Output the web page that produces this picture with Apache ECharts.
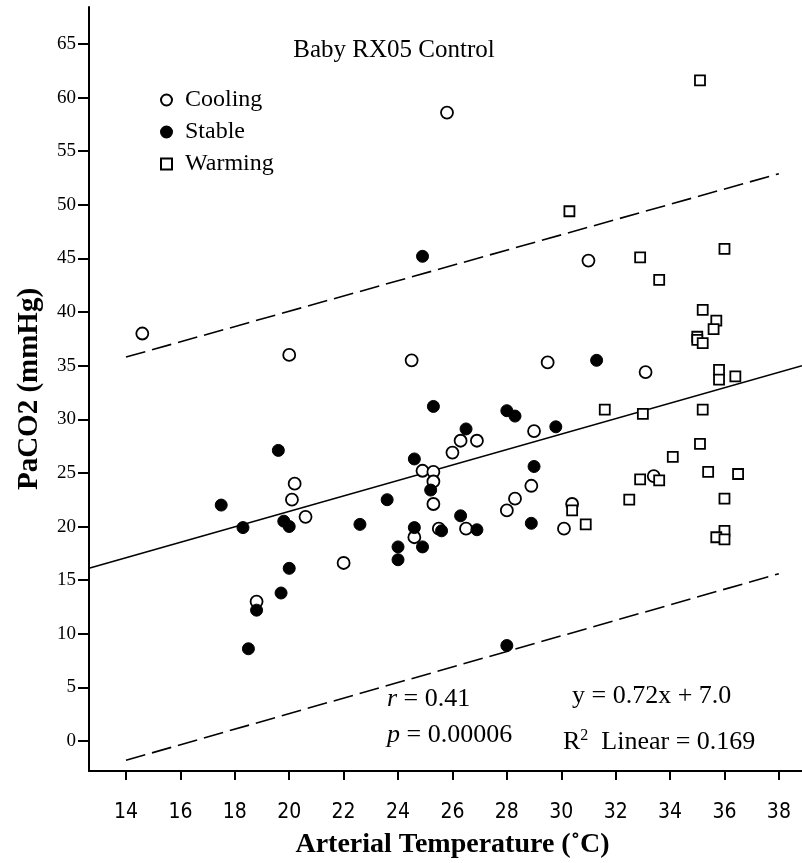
<!DOCTYPE html>
<html>
<head>
<meta charset="utf-8">
<script src="https://cdn.jsdelivr.net/npm/echarts/dist/echarts.min.js"></script>
<style>html,body{margin:0;padding:0;background:#fff;}#c{width:802px;height:863px;}</style>
</head>
<body>
<div id="c"></div>
<script>
// ---- data ----
const cooling = [
  [14.6, 38.0], [25.8, 58.6], [20.0, 36.0], [20.2, 24.0], [20.1, 22.5], [20.6, 20.9],
  [24.5, 35.5], [29.5, 35.3], [29.0, 28.9], [26.3, 28.0], [26.9, 28.0], [26.0, 26.9],
  [24.9, 25.2], [25.3, 25.1], [25.3, 24.2], [28.9, 23.8], [28.3, 22.6], [28.0, 21.5],
  [25.3, 22.1], [25.5, 19.8], [26.5, 19.8], [24.6, 19.0], [30.1, 19.8], [30.4, 22.1],
  [33.1, 34.4], [33.4, 24.7], [31.0, 44.8], [22.0, 16.6], [18.8, 13.0]
];
const stable = [
  [19.6, 27.1], [17.5, 22.0], [18.3, 19.9], [19.8, 20.5], [20.0, 20.0], [20.0, 16.1],
  [19.7, 13.8], [18.8, 12.2], [18.5, 8.6], [22.6, 20.2], [23.6, 22.5], [24.0, 18.1],
  [24.0, 16.9], [24.6, 26.3], [24.6, 19.9], [24.9, 18.1], [25.2, 23.4], [25.3, 31.2],
  [24.9, 45.2], [25.6, 19.6], [26.3, 21.0], [26.5, 29.1], [26.9, 19.7], [28.0, 30.8],
  [28.3, 30.3], [29.0, 25.6], [28.9, 20.3], [29.8, 29.3], [31.3, 35.5], [28.0, 8.9]
];
const warming = [
  [35.1, 61.6], [30.3, 49.4], [32.9, 45.1], [36.0, 45.9], [33.6, 43.0], [35.2, 40.2],
  [35.7, 39.2], [35.6, 38.4], [35.0, 37.7], [35.0, 37.4], [35.2, 37.1], [35.8, 34.6],
  [35.8, 33.7], [36.4, 34.0], [31.6, 30.9], [33.0, 30.5], [35.2, 30.9], [35.1, 27.7],
  [34.1, 26.5], [35.4, 25.1], [36.5, 24.9], [32.9, 24.4], [33.6, 24.3], [32.5, 22.5],
  [36.0, 22.6], [30.4, 21.5], [30.9, 20.2], [36.0, 19.6], [35.7, 19.0], [36.0, 18.8]
];
const fitLine = [[12.64, 16.1], [38.85, 35.0]];
const upperBand = [[14, 35.8], [38, 52.9]];
const lowerBand = [[14, -1.8], [38, 15.6]];
const xTicks = [14, 16, 18, 20, 22, 24, 26, 28, 30, 32, 34, 36, 38];
const yTicks = [0, 5, 10, 15, 20, 25, 30, 35, 40, 45, 50, 55, 60, 65];
const titleText = 'Baby RX05 Control';
const xName = 'Arterial Temperature (\u02DAC)';
const yName = 'PaCO2 (mmHg)';

const SERIF = '"Liberation Serif", "DejaVu Serif", serif';
const NARROW = '"Liberation Sans Narrow", "Arial Narrow", "DejaVu Sans Condensed", "Liberation Sans", sans-serif';
const chart = echarts.init(document.getElementById('c'), null, {renderer: 'canvas'});
const lineStyleBase = {color: '#000', width: 1.6};
chart.setOption({
  animation: false,
  backgroundColor: '#fff',
  grid: {left: 89, right: 0, top: 7, bottom: 92, containLabel: false, outerBoundsMode: 'none'},
  xAxis: {
    type: 'value', min: 12.64, max: 38.85,
    name: xName, nameLocation: 'middle', nameGap: 60,
    nameTextStyle: {fontFamily: SERIF, fontWeight: 'bold', fontSize: 28, color: '#000', padding: [0, 0, 0, 14]},
    axisLine: {show: true, onZero: false, lineStyle: {color: '#000', width: 2}},
    axisTick: {show: true, length: 9, lineStyle: {color: '#000', width: 2}, customValues: xTicks},
    axisLabel: {customValues: xTicks, margin: 31, fontSize: 21, color: '#000', fontFamily: NARROW},
    splitLine: {show: false}
  },
  yAxis: {
    type: 'value', min: -2.8, max: 68.45,
    name: yName, nameLocation: 'middle', nameGap: 45, nameRotate: 90,
    nameTextStyle: {fontFamily: SERIF, fontWeight: 'bold', fontSize: 29, color: '#000'},
    axisLine: {show: true, onZero: false, lineStyle: {color: '#000', width: 2}},
    axisTick: {show: true, length: 11, lineStyle: {color: '#000', width: 2}, customValues: yTicks},
    axisLabel: {customValues: yTicks, margin: 13, fontSize: 19, color: '#000', fontFamily: SERIF},
    splitLine: {show: false}
  },
  legend: {
    orient: 'vertical', left: 155, top: 83, itemGap: 8, itemWidth: 11, itemHeight: 11,
    data: ['Cooling', 'Stable', 'Warming'],
    textStyle: {fontFamily: SERIF, fontSize: 24, color: '#000', padding: [0, 0, 0, 8]}
  },
  graphic: [
    {type: 'text', x: 394, y: 50, style: {text: titleText, font: '25px ' + SERIF, fill: '#000', align: 'center', verticalAlign: 'middle'}},
    {type: 'text', x: 387, y: 699, style: {text: '{i|r} = 0.41', fontFamily: SERIF, fontSize: 26, fill: '#000', verticalAlign: 'middle',
      rich: {i: {fontFamily: SERIF, fontSize: 26, fontStyle: 'italic', fill: '#000'}}}},
    {type: 'text', x: 387, y: 735, style: {text: '{i|p} = 0.00006', fontFamily: SERIF, fontSize: 26, fill: '#000', verticalAlign: 'middle',
      rich: {i: {fontFamily: SERIF, fontSize: 26, fontStyle: 'italic', fill: '#000'}}}},
    {type: 'text', x: 572, y: 696, style: {text: 'y = 0.72x + 7.0', fontFamily: SERIF, fontSize: 26, fill: '#000', verticalAlign: 'middle'}},
    {type: 'text', x: 563, y: 742, style: {text: 'R{s|2}  Linear = 0.169', fontFamily: SERIF, fontSize: 26, fill: '#000', verticalAlign: 'middle',
      rich: {s: {fontFamily: SERIF, fontSize: 16, fill: '#000', verticalAlign: 'top', padding: [0, 0, 12, 0]}}}}
  ],
  series: [
    {type: 'line', data: fitLine, symbol: 'none', lineStyle: lineStyleBase, silent: true, z: 1},
    {type: 'line', data: upperBand, symbol: 'none', lineStyle: Object.assign({}, lineStyleBase, {type: [20, 7]}), silent: true, z: 1},
    {type: 'line', data: lowerBand, symbol: 'none', lineStyle: Object.assign({}, lineStyleBase, {type: [20, 7]}), silent: true, z: 1},
    {name: 'Cooling', type: 'scatter', data: cooling, symbol: 'circle', symbolSize: 12, z: 3,
      itemStyle: {color: '#fff', borderColor: '#000', borderWidth: 1.8, opacity: 1}},
    {name: 'Stable', type: 'scatter', data: stable, symbol: 'circle', symbolSize: 12, z: 3,
      itemStyle: {color: '#000', borderColor: '#000', borderWidth: 1, opacity: 1}},
    {name: 'Warming', type: 'scatter', data: warming, symbol: 'rect', symbolSize: 10, z: 3,
      itemStyle: {color: '#fff', borderColor: '#000', borderWidth: 1.8, opacity: 1}}
  ]
});
</script>
</body>
</html>
